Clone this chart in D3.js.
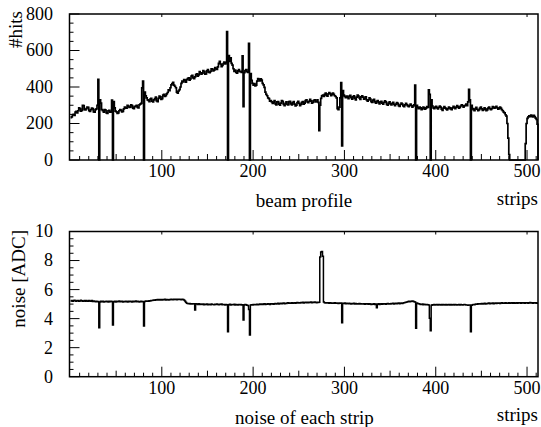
<!DOCTYPE html>
<html>
<head>
<meta charset="utf-8">
<script src="https://cdn.jsdelivr.net/npm/d3@7/dist/d3.min.js"></script>
<style>
  body { margin: 0; background: #fff; }
  text { font-family: "Liberation Serif", "Times New Roman", serif; fill: #000; }
</style>
</head>
<body>
<div id="chart"></div>
<script>
// hits per strip (strips 0..511)
var hits = [
  232,236,248,250,244,262,266,258,270,286,282,268,272,300,298,276,
  274,282,290,288,270,266,276,284,282,264,262,276,280,300,442,0,
  330,312,276,270,262,276,274,258,256,270,272,262,264,328,0,320,
  286,268,264,256,258,270,276,274,264,266,280,290,286,284,300,296,
  288,290,302,298,284,282,292,296,300,288,286,302,306,310,395,433,
  0,372,352,340,330,326,320,334,338,322,318,330,336,344,324,320,
  338,350,346,332,336,356,360,348,352,362,370,384,380,396,412,418,
  426,410,404,396,372,366,378,386,400,420,432,428,440,436,426,440,
  446,450,438,444,460,464,450,446,456,468,472,460,466,484,478,470,
  476,490,484,470,472,488,496,482,478,486,500,498,488,492,506,500,
  496,510,530,540,526,512,518,528,536,526,534,703,0,572,540,560,
  530,520,500,486,492,480,476,488,496,484,486,480,571,292,478,490,
  496,484,480,639,0,474,436,420,410,418,406,410,432,446,442,434,
  444,438,420,412,398,372,360,352,340,336,322,326,318,310,316,326,
  308,302,318,320,306,300,312,326,322,304,298,310,318,304,302,320,
  322,308,302,314,320,306,296,300,314,322,310,298,304,316,320,306,
  312,326,330,318,314,322,332,324,312,316,326,330,318,322,330,316,
  161,300,338,352,356,348,360,366,354,350,362,370,364,352,358,366,
  360,352,348,340,282,276,290,340,424,77,380,356,348,342,350,344,
  336,350,354,342,334,346,352,338,330,344,356,350,340,332,346,352,
  344,334,338,346,330,322,330,340,334,320,316,328,332,318,312,322,
  326,314,308,318,322,312,306,316,324,318,304,300,312,318,308,302,
  310,316,304,298,306,314,310,298,294,304,312,306,296,292,302,310,
  304,296,292,300,306,298,290,296,302,411,0,300,288,282,290,286,
  276,280,290,286,278,284,292,288,384,360,0,330,296,286,282,290,
  294,286,280,288,296,290,278,272,284,292,286,280,274,282,290,286,
  280,276,286,294,288,282,290,298,292,284,288,296,302,298,290,296,
  300,306,298,318,387,330,0,300,282,276,270,282,288,278,270,274,
  284,290,280,272,276,286,280,270,274,284,290,282,276,282,292,288,
  284,290,294,286,278,282,290,284,276,270,262,258,248,240,200,120,
  30,0,0,0,0,0,0,0,0,0,0,0,0,0,0,0,
  0,0,90,200,228,236,242,238,246,240,236,244,238,230,222,196
];

// noise per strip [ADC]
var noise = [
  5.22,5.25,5.20,5.24,5.26,5.21,5.19,5.24,5.25,5.20,5.22,5.26,5.23,5.20,5.22,5.25,
  5.20,5.24,5.22,5.19,5.25,5.22,5.20,5.24,5.18,5.22,5.20,5.17,5.20,5.16,5.18,3.37,
  5.15,5.19,5.17,5.20,5.15,5.18,5.17,5.20,5.18,5.15,5.19,5.17,5.20,5.18,3.56,5.17,
  5.19,5.15,5.20,5.16,5.18,5.21,5.16,5.18,5.20,5.15,5.18,5.17,5.20,5.18,5.15,5.19,
  5.16,5.20,5.18,5.15,5.20,5.17,5.18,5.21,5.16,5.20,5.18,5.15,5.18,5.20,5.17,5.18,
  3.50,5.18,5.21,5.19,5.22,5.20,5.23,5.21,5.24,5.25,5.26,5.29,5.27,5.30,5.28,5.31,
  5.29,5.32,5.28,5.31,5.29,5.32,5.30,5.33,5.29,5.32,5.30,5.28,5.32,5.30,5.33,5.31,
  5.30,5.33,5.31,5.34,5.30,5.33,5.31,5.34,5.32,5.30,5.34,5.31,5.28,5.22,5.12,5.06,
  5.04,5.02,5.04,5.01,5.03,5.00,5.02,5.03,4.60,5.02,5.00,4.98,5.02,4.97,5.00,4.99,
  4.97,5.01,4.96,4.99,4.98,5.01,4.96,4.99,4.98,4.95,5.00,4.97,4.98,4.95,4.99,4.97,
  5.00,4.97,4.95,4.99,4.97,5.00,4.95,4.98,4.97,4.94,4.98,4.96,3.10,4.96,4.99,4.94,
  4.98,4.95,4.96,4.99,4.94,4.97,4.96,4.93,4.97,4.95,4.98,4.93,4.95,3.90,4.94,4.97,
  4.95,4.92,4.90,4.62,2.87,4.93,4.96,4.94,4.97,4.95,4.98,4.96,4.99,4.96,4.98,5.00,
  4.98,5.01,4.97,5.00,5.02,4.98,5.01,4.99,5.03,5.00,4.98,5.02,5.00,5.03,4.99,5.02,
  5.04,5.00,5.03,5.05,5.01,5.04,5.06,5.02,5.05,5.07,5.03,5.06,5.04,5.07,5.09,5.05,
  5.08,5.06,5.09,5.05,5.08,5.10,5.06,5.09,5.11,5.07,5.10,5.08,5.11,5.09,5.12,5.08,
  5.11,5.13,5.09,5.12,5.10,5.13,5.11,5.14,5.10,5.13,5.11,5.14,5.12,5.10,5.13,5.11,
  5.13,8.25,8.58,8.62,8.30,5.14,5.10,5.08,5.10,5.07,5.09,5.06,5.09,5.07,5.05,5.08,
  5.06,5.09,5.05,5.08,5.06,5.04,5.07,5.05,5.08,3.72,5.05,5.04,5.07,5.03,5.06,5.04,
  5.02,5.05,5.03,5.01,5.04,5.02,5.05,5.01,5.04,5.00,5.03,5.01,5.04,5.00,5.03,5.01,
  5.00,5.03,4.99,5.02,5.00,5.03,4.99,5.02,5.00,4.98,5.01,4.99,5.02,4.98,5.01,4.75,
  4.99,5.02,4.98,5.01,5.03,4.99,5.02,5.00,5.03,4.99,5.02,5.04,5.00,5.03,5.01,5.04,
  5.02,5.05,5.01,5.04,5.06,5.02,5.05,5.07,5.03,5.06,5.08,5.04,5.07,5.09,5.11,5.13,
  5.15,5.17,5.19,5.17,5.20,5.18,5.21,5.19,5.17,5.15,3.33,5.08,5.04,5.02,5.00,4.98,
  4.97,5.00,4.96,4.99,4.97,4.95,4.98,4.96,4.94,4.02,3.17,4.92,4.96,4.93,4.97,4.94,
  4.95,4.98,4.94,4.97,4.95,4.93,4.97,4.94,4.98,4.95,4.93,4.97,4.94,4.95,4.98,4.94,
  4.97,4.93,4.95,4.98,4.94,4.97,4.95,4.93,4.96,4.98,4.94,4.97,4.95,4.93,4.95,4.97,
  4.95,4.93,4.94,4.92,4.94,4.93,3.10,4.92,4.96,4.98,4.96,4.99,5.01,4.99,5.02,5.00,
  5.03,5.01,5.04,5.00,5.03,5.05,5.01,5.04,5.02,5.05,5.07,5.03,5.06,5.04,5.07,5.03,
  5.06,5.08,5.04,5.07,5.05,5.08,5.04,5.07,5.09,5.05,5.08,5.06,5.09,5.05,5.08,5.06,
  5.09,5.05,5.08,5.10,5.06,5.09,5.05,5.08,5.10,5.06,5.09,5.07,5.10,5.06,5.09,5.07,
  5.10,5.06,5.09,5.07,5.10,5.06,5.09,5.11,5.07,5.10,5.06,5.09,5.07,5.10,5.06,5.08
];

var stripTicks = [100, 200, 300, 400, 500];
var hitTicks = [0, 200, 400, 600, 800];
var noiseTicks = [0, 2, 4, 6, 8, 10];

var width = 541, height = 427;

var svg = d3.select('#chart').append('svg')
    .attr('width', width)
    .attr('height', height);

var x = d3.scaleLinear().domain([0, 512]).range([70.5, 538]);
var yHits = d3.scaleLinear().domain([0, 800]).range([160, 14]);
var yNoise = d3.scaleLinear().domain([0, 10]).range([376.7, 231.5]);

function drawPanel(y, values, yMajor, yMinorStep, closeEnd, lw) {
    var g = svg.append('g');
    var y0 = y.range()[0], y1 = y.range()[1];

    // histogram as steps
    var pts = values.map(function(v, i) { return [i, v]; });
    pts.push([values.length, values[values.length - 1]]);
    if (closeEnd) pts.push([values.length, 0]);
    var line = d3.line()
        .x(function(d) { return x(d[0]); })
        .y(function(d) { return y(d[1]); })
        .curve(d3.curveStepAfter);
    g.append('path')
        .attr('d', line(pts))
        .attr('fill', 'none')
        .attr('stroke', '#000')
        .attr('stroke-width', lw);

    // x ticks (inside, from bottom)
    d3.range(10, 512, 10).forEach(function(s) {
        var len = s % 100 === 0 ? 10 : (s % 50 === 0 ? 6 : 4);
        g.append('line')
            .attr('x1', x(s)).attr('x2', x(s))
            .attr('y1', y0).attr('y2', y0 - len)
            .attr('stroke', '#000').attr('stroke-width', 1);
    });
    stripTicks.forEach(function(s) {
        g.append('line')
            .attr('x1', x(s)).attr('x2', x(s))
            .attr('y1', y1).attr('y2', y1 + 3)
            .attr('stroke', '#000').attr('stroke-width', 1);
    });

    // y ticks (inside, from left)
    var top = y.domain()[1];
    for (var v = 0; v <= top + 1e-9; v += yMinorStep) {
        var major = yMajor.some(function(m) { return Math.abs(m - v) < 1e-6; });
        g.append('line')
            .attr('x1', x(0) - 1).attr('x2', x(0) - 1 + (major ? 10 : 4))
            .attr('y1', y(v)).attr('y2', y(v))
            .attr('stroke', '#000').attr('stroke-width', 1);
    }

    // frame
    g.append('rect')
        .attr('x', x(0) - 1).attr('y', y1)
        .attr('width', x(512) - x(0) + 1).attr('height', y0 - y1)
        .attr('fill', 'none')
        .attr('stroke', '#000')
        .attr('stroke-width', 1.5);

    // tick labels
    g.selectAll('.xl').data(stripTicks).enter().append('text')
        .attr('x', function(d) { return x(d); })
        .attr('y', y0 + 17)
        .attr('text-anchor', 'middle')
        .attr('font-size', 18)
        .text(function(d) { return d; });
    g.selectAll('.yl').data(yMajor).enter().append('text')
        .attr('x', 53)
        .attr('y', function(d) { return y(d); })
        .attr('dy', '0.33em')
        .attr('text-anchor', 'end')
        .attr('font-size', 18)
        .text(function(d) { return d; });
    return g;
}

drawPanel(yHits, hits, hitTicks, 50, true, 1.7);
drawPanel(yNoise, noise, noiseTicks, 0.5, false, 1.5);

// titles
svg.append('text')
    .attr('transform', 'translate(22,11) rotate(-90)')
    .attr('text-anchor', 'end')
    .attr('font-size', 19)
    .text('#hits');
svg.append('text')
    .attr('transform', 'translate(25,230) rotate(-90)')
    .attr('text-anchor', 'end')
    .attr('font-size', 19)
    .text('noise [ADC]');
svg.append('text')
    .attr('x', 304).attr('y', 206.5)
    .attr('text-anchor', 'middle')
    .attr('font-size', 19)
    .text('beam profile');
svg.append('text')
    .attr('x', 538).attr('y', 205)
    .attr('text-anchor', 'end')
    .attr('font-size', 19)
    .text('strips');
svg.append('text')
    .attr('x', 304.5).attr('y', 424)
    .attr('text-anchor', 'middle')
    .attr('font-size', 19)
    .text('noise of each strip');
svg.append('text')
    .attr('x', 538).attr('y', 421)
    .attr('text-anchor', 'end')
    .attr('font-size', 19)
    .text('strips');
</script>
</body>
</html>
